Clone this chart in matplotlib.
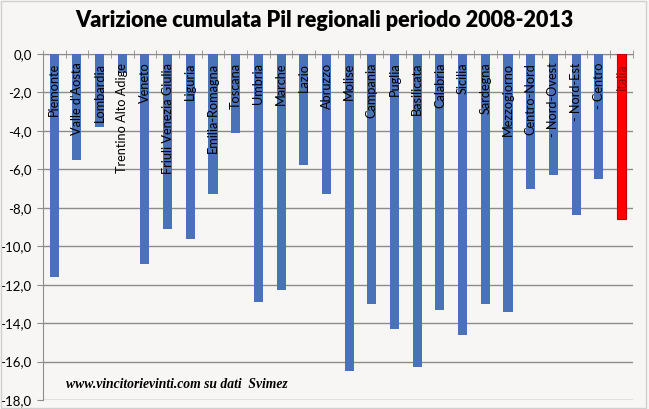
import matplotlib.pyplot as plt
from matplotlib.ticker import FuncFormatter, MultipleLocator
from matplotlib.patches import Rectangle

regioni = ["Piemonte", "Valle d'Aosta", "Lombardia", "Trentino Alto Adige",
           "Veneto", "Friuli Venezia Giulia", "Liguria", "Emilia-Romagna",
           "Toscana", "Umbria", "Marche", "Lazio", "Abruzzo", "Molise",
           "Campania", "Puglia", "Basilicata", "Calabria", "Sicilia",
           "Sardegna", "Mezzogiorno", "Centro-Nord", "- Nord-Ovest",
           "- Nord-Est", "- Centro", "Italia"]
variazione = [-11.6, -5.5, -3.8, -1.0, -10.9, -9.1, -9.6, -7.3, -4.1,
              -12.9, -12.3, -5.8, -7.3, -16.5, -13.0, -14.3, -16.3, -13.3,
              -14.6, -13.0, -13.4, -7.0, -6.3, -8.4, -6.5, -8.6]

bg = "#f7f6f4"
fig = plt.figure(figsize=(6.49, 4.09), dpi=100, facecolor=bg)
fig.patches.append(Rectangle((0.002, 0.002), 0.993, 0.995, transform=fig.transFigure,
                             fill=False, edgecolor="#d0d0d0", linewidth=1))
ax = fig.add_axes([0.066, 0.022, 0.909, 0.846])
ax.set_facecolor(bg)

colori = ["#4a72b8"] * (len(regioni) - 1) + ["#ff0000"]
x = list(range(len(regioni)))
ax.bar(x, variazione, width=0.4, color=colori, zorder=3)
ax.patches[-1].set_edgecolor("#c00000")
ax.patches[-1].set_linewidth(0.8)

for i, nome in enumerate(regioni):
    col = "#8b0000" if nome == "Italia" else "black"
    ax.text(i, -0.45, nome, rotation=90, ha="center", va="top",
            fontsize=9.2, family="Lato", color=col, zorder=4)

ax.set_xlim(-0.5, len(regioni) - 0.5)
ax.set_ylim(-18, 0)
ax.yaxis.set_major_locator(MultipleLocator(2))
ax.yaxis.set_major_formatter(FuncFormatter(lambda v, p: f"{v:.1f}".replace(".", ",")))
ax.grid(axis="y", color="#8c8c8c", linewidth=1, zorder=1)
ax.tick_params(axis="y", length=4, color="#8c8c8c", labelsize=9.5, pad=4)
for lab in ax.get_yticklabels():
    lab.set_family("Lato")

ax.set_xticks([])
ax.set_xticks([i + 0.5 for i in range(-1, len(regioni))], minor=True)
ax.tick_params(axis="x", which="minor", direction="inout", length=6,
               color="#8c8c8c", bottom=False, top=True, labeltop=False)
ax.spines["top"].set_color("#8c8c8c")
ax.spines["left"].set_color("#8c8c8c")
ax.spines["right"].set_visible(False)
ax.spines["bottom"].set_visible(False)

fig.text(0.5, 0.95, "Varizione cumulata Pil regionali periodo 2008-2013",
         ha="center", va="center", fontsize=15.5, fontweight="heavy", family="Lato")
ax.text(0.04, 0.035, "www.vincitorievinti.com su dati  Svimez", transform=ax.transAxes,
        fontsize=9.8, style="italic", fontweight="bold", family="Liberation Serif")

fig.savefig("out.png", dpi=100, facecolor=bg)
